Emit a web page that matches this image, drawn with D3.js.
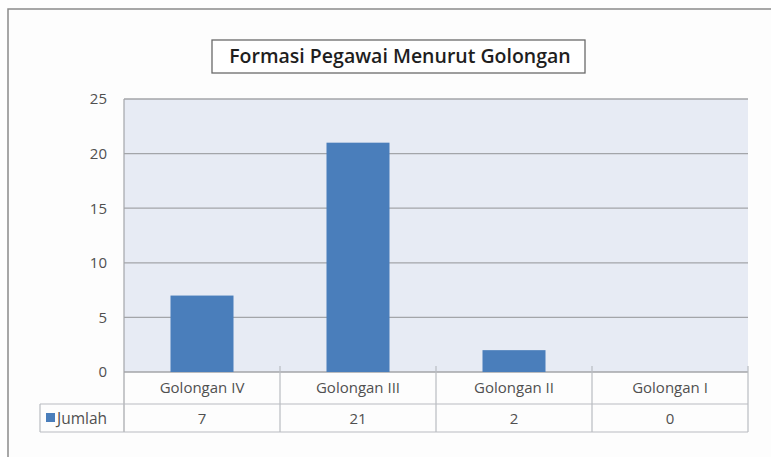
<!DOCTYPE html>
<html><head><meta charset="utf-8">
<script src="https://cdn.jsdelivr.net/npm/d3@7/dist/d3.min.js"></script>
<style>html,body{margin:0;padding:0;background:#fff;}svg{display:block;}</style>
</head><body>
<svg id="c" width="771" height="457"></svg>
<script>
const categories = ["Golongan IV", "Golongan III", "Golongan II", "Golongan I"];
const values = [7, 21, 2, 0];
const seriesName = "Jumlah";
const yTicks = [0, 5, 10, 15, 20, 25];
const title = "Formasi Pegawai Menurut Golongan";

const svg = d3.select("#c");
const font = "'Open Sans', 'Noto Sans', sans-serif";
const L = 124, R = 748, T = 99, B = 372;
const row1 = 404, row2 = 432, legL = 40;

svg.append("rect").attr("x",0).attr("y",0).attr("width",771).attr("height",457).attr("fill","#fefefe");
svg.append("rect").attr("x",8).attr("y",9).attr("width",800).attr("height",500)
  .attr("fill","#fdfdfd").attr("stroke","#8a8a8a").attr("stroke-width",1.5);

const x = d3.scaleBand().domain(categories).range([L, R]).paddingInner(0).paddingOuter(0);
const y = d3.scaleLinear().domain([0, 25]).range([B, T]);

svg.append("rect").attr("x",L).attr("y",T).attr("width",R-L).attr("height",B-T).attr("fill","#e7ebf4");

// gridlines
svg.append("g").selectAll("line").data(yTicks).join("line")
  .attr("x1",L).attr("x2",R).attr("y1",d=>y(d)).attr("y2",d=>y(d))
  .attr("stroke","#a3a5a9").attr("stroke-width",1.3);

// y axis
const yAxis = svg.append("g").attr("transform",`translate(${L},0)`)
  .call(d3.axisLeft(y).tickValues(yTicks).tickSize(0).tickPadding(17));
yAxis.select(".domain").remove();
yAxis.selectAll("text").attr("font-family",font).attr("font-size",15).attr("fill","#505050");

// bars
const bw = 63;
svg.append("g").selectAll("rect").data(values).join("rect")
  .attr("x",(d,i)=>x(categories[i]) + x.bandwidth()/2 - bw/2)
  .attr("y",d=>y(d)).attr("width",bw).attr("height",d=>y(0)-y(d))
  .attr("fill","#4a7ebb");

// table
const tg = svg.append("g").attr("stroke","#b9bcc1").attr("stroke-width",1.2);
tg.append("line").attr("x1",L).attr("x2",L).attr("y1",T).attr("y2",row2).attr("stroke","#a3a5a9");
categories.forEach((c,i)=>{
  const xr = x(c) + x.bandwidth();
  tg.append("line").attr("x1",xr).attr("x2",xr).attr("y1",B-6).attr("y2",row2);
});
tg.append("line").attr("x1",legL).attr("x2",R).attr("y1",row1).attr("y2",row1);
tg.append("line").attr("x1",legL).attr("x2",R).attr("y1",row2).attr("y2",row2);
tg.append("line").attr("x1",legL).attr("x2",legL).attr("y1",row1).attr("y2",row2);

svg.append("g").selectAll("text").data(categories).join("text")
  .attr("x",d=>x(d)+x.bandwidth()/2).attr("y",(B+row1)/2+5)
  .attr("text-anchor","middle").attr("font-family",font).attr("font-size",15).attr("fill","#505050")
  .text(d=>d);
svg.append("g").selectAll("text").data(values).join("text")
  .attr("x",(d,i)=>x(categories[i])+x.bandwidth()/2).attr("y",(row1+row2)/2+5.5)
  .attr("text-anchor","middle").attr("font-family",font).attr("font-size",15).attr("fill","#505050")
  .text(d=>d);
svg.append("rect").attr("x",46).attr("y",413).attr("width",9).attr("height",9).attr("fill","#4a7ebb");
svg.append("text").attr("x",57).attr("y",423.5).attr("font-family",font).attr("font-size",15.5)
  .attr("fill","#505050").text(seriesName);

// title
svg.append("rect").attr("x",212).attr("y",40).attr("width",373).attr("height",33)
  .attr("fill","#fff").attr("stroke","#6a6a6a").attr("stroke-width",1.3);
svg.append("text").attr("x",400).attr("y",63).attr("text-anchor","middle")
  .attr("font-family",font).attr("font-size",19.5).attr("font-weight",600).attr("fill","#1e1e1e")
  .text(title);
</script>
</body></html>
